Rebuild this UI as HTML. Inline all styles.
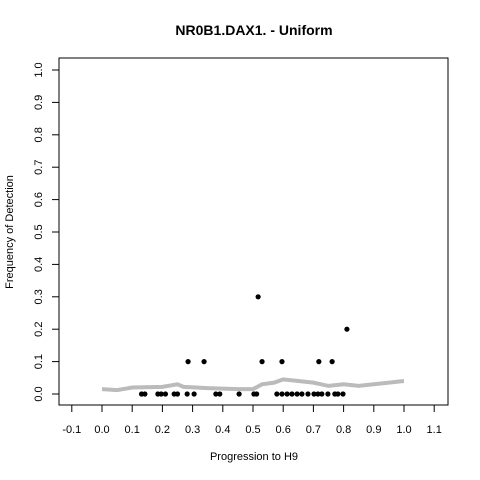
<!DOCTYPE html>
<html><head><meta charset="utf-8"><style>
body{margin:0;background:#fff}
svg{display:block;font-family:"Liberation Sans",sans-serif}
</style></head><body>
<svg id="c" width="480" height="480">
<text x="254" y="35" text-anchor="middle" font-size="14" font-weight="bold">NR0B1.DAX1. - Uniform</text>
<rect x="59" y="58" width="389" height="347" fill="none" stroke="#000"/>
<text x="254" y="460" text-anchor="middle" font-size="11">Progression to H9</text>
<text transform="translate(13,232) rotate(-90)" text-anchor="middle" font-size="11">Frequency of Detection</text>
<g id="ax"></g><g id="ln"></g><g id="pts"></g>
</svg>
<script>
const xTicks=[-0.1,0,0.1,0.2,0.3,0.4,0.5,0.6,0.7,0.8,0.9,1.0,1.1];
const yTicks=[0,0.1,0.2,0.3,0.4,0.5,0.6,0.7,0.8,0.9,1.0];
const ptX=[0.131,0.142,0.185,0.196,0.21,0.239,0.25,0.282,0.305,0.377,0.39,0.454,0.503,0.512,0.579,0.596,0.613,0.629,0.646,0.662,0.682,0.702,0.715,0.728,0.748,0.771,0.781,0.798,0.285,0.338,0.53,0.596,0.718,0.762,0.811,0.517];
const ptY=[0,0,0,0,0,0,0,0,0,0,0,0,0,0,0,0,0,0,0,0,0,0,0,0,0,0,0,0,0.1,0.1,0.1,0.1,0.1,0.1,0.2,0.3];
const lnX=[0,0.05,0.1,0.2,0.25,0.27,0.35,0.45,0.5,0.53,0.57,0.6,0.65,0.7,0.75,0.8,0.85,0.9,1.0];
const lnY=[0.015,0.012,0.02,0.022,0.03,0.022,0.018,0.015,0.015,0.03,0.035,0.045,0.04,0.035,0.025,0.03,0.025,0.03,0.04];
const sx=v=>102+v*302, sy=v=>394-v*324;
const NS='http://www.w3.org/2000/svg';
function mk(t,a,p){const e=document.createElementNS(NS,t);for(const k in a)e.setAttribute(k,a[k]);p.appendChild(e);return e;}
const ax=document.getElementById('ax');
xTicks.forEach(v=>{const l=mk('line',{x1:sx(v),x2:sx(v),y1:405,y2:412,stroke:'#000'},ax);


const t=mk('text',{x:sx(v),y:433,'text-anchor':'middle','font-size':11},ax);t.textContent=v.toFixed(1);

});
yTicks.forEach(v=>{const l=mk('line',{x1:52,x2:59,y1:sy(v),y2:sy(v),stroke:'#000'},ax);


const t=mk('text',{transform:`translate(42,${sy(v)}) rotate(-90)`,'text-anchor':'middle','font-size':11},ax);t.textContent=v.toFixed(1);

});
const p=mk('polyline',{points:lnX.map((v,i)=>sx(v)+','+sy(lnY[i])).join(' '),fill:'none',stroke:'#bbb','stroke-width':4},document.getElementById('ln'));


const g=document.getElementById('pts');
ptX.forEach((v,i)=>{const c=mk('circle',{cx:sx(v),cy:sy(ptY[i]),r:2.6,fill:'#000'},g);

});
</script>
</body></html>
